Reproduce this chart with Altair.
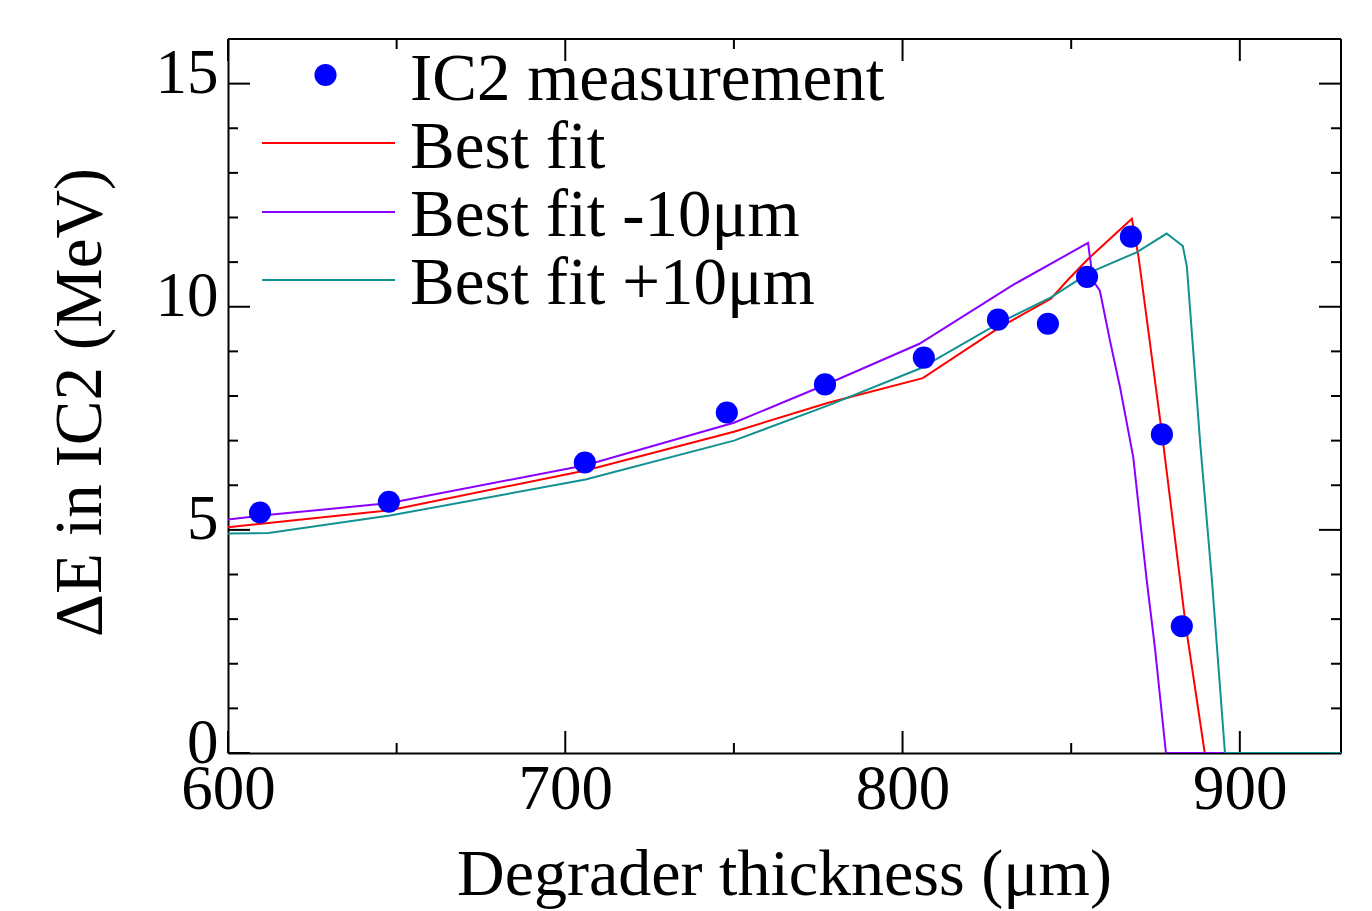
import altair as alt
import pandas as pd

# ---- data ----
meas_x = [609.5, 647.7, 705.8, 747.9, 777.0, 806.3, 828.3, 843.1, 854.7, 867.7, 876.9, 882.8]
meas_y = [5.39, 5.63, 6.51, 7.63, 8.26, 8.86, 9.71, 9.62, 10.67, 11.57, 7.14, 2.84]

best_x = [600, 648, 706, 750, 778, 806, 829, 844, 849, 855, 868, 870, 877, 884, 889.6, 930]
best_y = [5.06, 5.44, 6.33, 7.2, 7.85, 8.4, 9.55, 10.18, 10.6, 11.07, 11.97, 11.1, 7.11, 2.84, 0, 0]

minus_x = [600, 610, 648, 706, 750, 778, 805, 833, 855, 856.5, 858.5, 861.5, 864.5, 868.4, 872.4, 874.8, 878.1, 930]
minus_y = [5.23, 5.32, 5.6, 6.45, 7.4, 8.28, 9.17, 10.5, 11.43, 10.58, 10.36, 9.24, 8.19, 6.63, 3.87, 2.38, 0, 0]

plus_x = [600, 612, 648, 706, 750, 778, 805, 829, 844, 855.6, 869.4, 878.3, 883.1, 884.3, 888.3, 891.7, 895.6, 930]
plus_y = [4.92, 4.93, 5.32, 6.13, 7.0, 7.79, 8.61, 9.65, 10.21, 10.77, 11.22, 11.64, 11.36, 10.9, 6.9, 3.9, 0, 0]

legend_labels = ["IC2 measurement", "Best fit", "Best fit -10μm", "Best fit +10μm"]
x_major = [600, 700, 800, 900]
x_minor = [650, 750, 850]
y_major = [0, 5, 10, 15]
y_minor = [1, 2, 3, 4, 6, 7, 8, 9, 11, 12, 13, 14]

x_title = "Degrader thickness (μm)"
y_title = "ΔE in IC2 (MeV)"

# ---- styling ----
W, H = 1113, 714
FONT = "Liberation Serif"
C_MEAS = "#0000ff"
C_BEST = "#ff0000"
C_MINUS = "#8a00ff"
C_PLUS = "#129191"

x_scale = alt.Scale(domain=[600, 930], nice=False, zero=False)
y_scale = alt.Scale(domain=[0, 16], nice=False, zero=False)

x_axis = alt.Axis(values=x_major, ticks=False, grid=False, domain=True, domainColor="black",
                  domainWidth=2, labelFont=FONT, labelFontSize=63, labelColor="black",
                  labelFlush=False, labelBaseline="alphabetic", labelPadding=55,
                  labelOverlap=False, title=x_title, titleFont=FONT, titleFontSize=66,
                  titleFontWeight="normal", titleColor="black", titleX=556, titleY=141,
                  titleBaseline="alphabetic", titleAlign="center", titleAnchor="middle")
y_axis = alt.Axis(values=y_major, ticks=False, grid=False, domain=True, domainColor="black",
                  domainWidth=2, labelFont=FONT, labelFontSize=63, labelColor="black",
                  labelAlign="right", labelBaseline="middle", labelPadding=10, labelOffset=-10,
                  labelFlush=False, labelOverlap=False, title=y_title, titleFont=FONT,
                  titleFontSize=67, titleFontWeight="normal", titleColor="black",
                  titleX=-128, titleY=363, titleAngle=270, titleBaseline="alphabetic",
                  titleAlign="center", titleAnchor="middle")


def X(field):
    return alt.X(field, type="quantitative", scale=x_scale, axis=x_axis)


def Y(field):
    return alt.Y(field, type="quantitative", scale=y_scale, axis=y_axis)


layers = []

# frame: top and right edges
one = pd.DataFrame({"k": [0]})
layers.append(alt.Chart(one).mark_rule(color="black", strokeWidth=2).encode(
    x=alt.value(0), x2=alt.value(W), y=alt.value(0)))
layers.append(alt.Chart(one).mark_rule(color="black", strokeWidth=2).encode(
    x=alt.value(W), y=alt.value(0), y2=alt.value(H)))

# inward ticks
xmaj = pd.DataFrame({"v": x_major})
xmin = pd.DataFrame({"v": x_minor})
ymaj = pd.DataFrame({"v": y_major})
ymin = pd.DataFrame({"v": y_minor})
MAJ, MIN = 22, 10
for df, L in [(xmaj, MAJ), (xmin, MIN)]:
    layers.append(alt.Chart(df).mark_rule(color="black", strokeWidth=2).encode(
        x=X("v"), y=alt.value(H), y2=alt.value(H - L)))
    layers.append(alt.Chart(df).mark_rule(color="black", strokeWidth=2).encode(
        x=X("v"), y=alt.value(0), y2=alt.value(L)))
for df, L in [(ymaj, MAJ), (ymin, MIN)]:
    layers.append(alt.Chart(df).mark_rule(color="black", strokeWidth=2).encode(
        y=Y("v"), x=alt.value(0), x2=alt.value(L)))
    layers.append(alt.Chart(df).mark_rule(color="black", strokeWidth=2).encode(
        y=Y("v"), x=alt.value(W), x2=alt.value(W - L)))

# curves
for xs, ys, col in [(best_x, best_y, C_BEST), (minus_x, minus_y, C_MINUS), (plus_x, plus_y, C_PLUS)]:
    df = pd.DataFrame({"x": xs, "y": ys})
    layers.append(alt.Chart(df).mark_line(color=col, strokeWidth=2, clip=True).encode(
        x=X("x"), y=Y("y")))

# measurements
mdf = pd.DataFrame({"x": meas_x, "y": meas_y})
layers.append(alt.Chart(mdf).mark_circle(color=C_MEAS, size=490, opacity=1).encode(
    x=X("x"), y=Y("y")))

# legend (inside, top-left)
LEG_SYM_X0, LEG_SYM_X1, LEG_TXT_X = 34, 167, 182
rows_mid = [36, 104, 173, 241]
rows_base = [61, 129, 197, 265]
layers.append(alt.Chart(one).mark_circle(color=C_MEAS, size=490, opacity=1).encode(
    x=alt.value((LEG_SYM_X0 + LEG_SYM_X1) / 2 - 3), y=alt.value(rows_mid[0])))
for i, col in zip([1, 2, 3], [C_BEST, C_MINUS, C_PLUS]):
    layers.append(alt.Chart(one).mark_rule(color=col, strokeWidth=2).encode(
        x=alt.value(LEG_SYM_X0), x2=alt.value(LEG_SYM_X1), y=alt.value(rows_mid[i])))
for i, lab in enumerate(legend_labels):
    layers.append(alt.Chart(one).mark_text(text=lab, font=FONT, fontSize=67, color="black",
                                           align="left", baseline="alphabetic").encode(
        x=alt.value(LEG_TXT_X), y=alt.value(rows_base[i])))

chart = alt.layer(*layers).properties(
    width=W, height=H,
    autosize=alt.AutoSizeParams(type="none"),
    padding={"left": 220, "top": 31, "right": 23, "bottom": 158},
).configure_view(stroke=None).configure(font=FONT, background="white")

chart.save("out.html", embed_options={"renderer": "svg", "actions": False})
